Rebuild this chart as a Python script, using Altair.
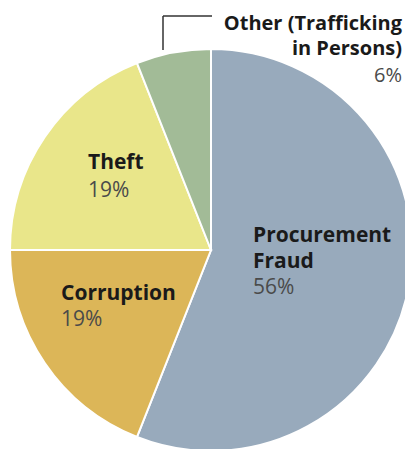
import altair as alt
import pandas as pd

categories = ["Procurement Fraud", "Corruption", "Theft", "Other (Trafficking in Persons)"]
shares = [56, 19, 19, 6]
order = [1, 2, 3, 4]
colors = ["#98aabc", "#dcb658", "#e9e68a", "#a2bb97"]

df = pd.DataFrame({"category": categories, "share": shares, "order": order})

W, H = 397, 441
CX, CY, R = 203, 242, 201
FONT = "Open Sans"
FS = 21

pie = alt.Chart(df).mark_arc(radius=R, stroke="white", strokeWidth=2).encode(
    theta=alt.Theta("share:Q", stack=True),
    order=alt.Order("order:Q"),
    color=alt.Color("category:N", scale=alt.Scale(domain=categories, range=colors), legend=None),
    x=alt.value(CX),
    y=alt.value(CY),
)


def line(cat, txt, x, y, bold=True, align="left", size=FS):
    return alt.Chart(df).transform_filter(alt.datum.category == cat).mark_text(
        text=txt, x=x, y=y, align=align, baseline="alphabetic", font=FONT,
        fontSize=size, fontWeight="bold" if bold else "normal",
        color="#1a1a1a" if bold else "#4a4a4a",
    ).encode()


labels = [
    line("Theft", "Theft", 80, 161),
    line("Theft", "19%", 80, 189, bold=False),
    line("Corruption", "Corruption", 53, 292),
    line("Corruption", "19%", 53, 318, bold=False),
    line("Procurement Fraud", "Procurement", 245, 234),
    line("Procurement Fraud", "Fraud", 245, 260),
    line("Procurement Fraud", "56%", 245, 286, bold=False),
    line("Other (Trafficking in Persons)", "Other (Trafficking", 394, 22, align="right", size=20),
    line("Other (Trafficking in Persons)", "in Persons)", 394, 47, align="right", size=20),
    line("Other (Trafficking in Persons)", "6%", 394, 74, bold=False, align="right", size=20),
]

leader_v = alt.Chart(df).transform_filter(alt.datum.order == 4).mark_rule(color="#333", strokeWidth=1.5).encode(
    x=alt.value(155), y=alt.value(8), y2=alt.value(42)
)
leader_h = alt.Chart(df).transform_filter(alt.datum.order == 4).mark_rule(color="#333", strokeWidth=1.5).encode(
    x=alt.value(155), x2=alt.value(204), y=alt.value(8)
)

chart = alt.layer(pie, leader_v, leader_h, *labels).properties(
    width=W, height=H, padding=0, autosize=alt.AutoSizeParams(type="none")
).configure_view(stroke=None)

chart.save("out.html", embed_options={"renderer": "svg", "actions": False})
